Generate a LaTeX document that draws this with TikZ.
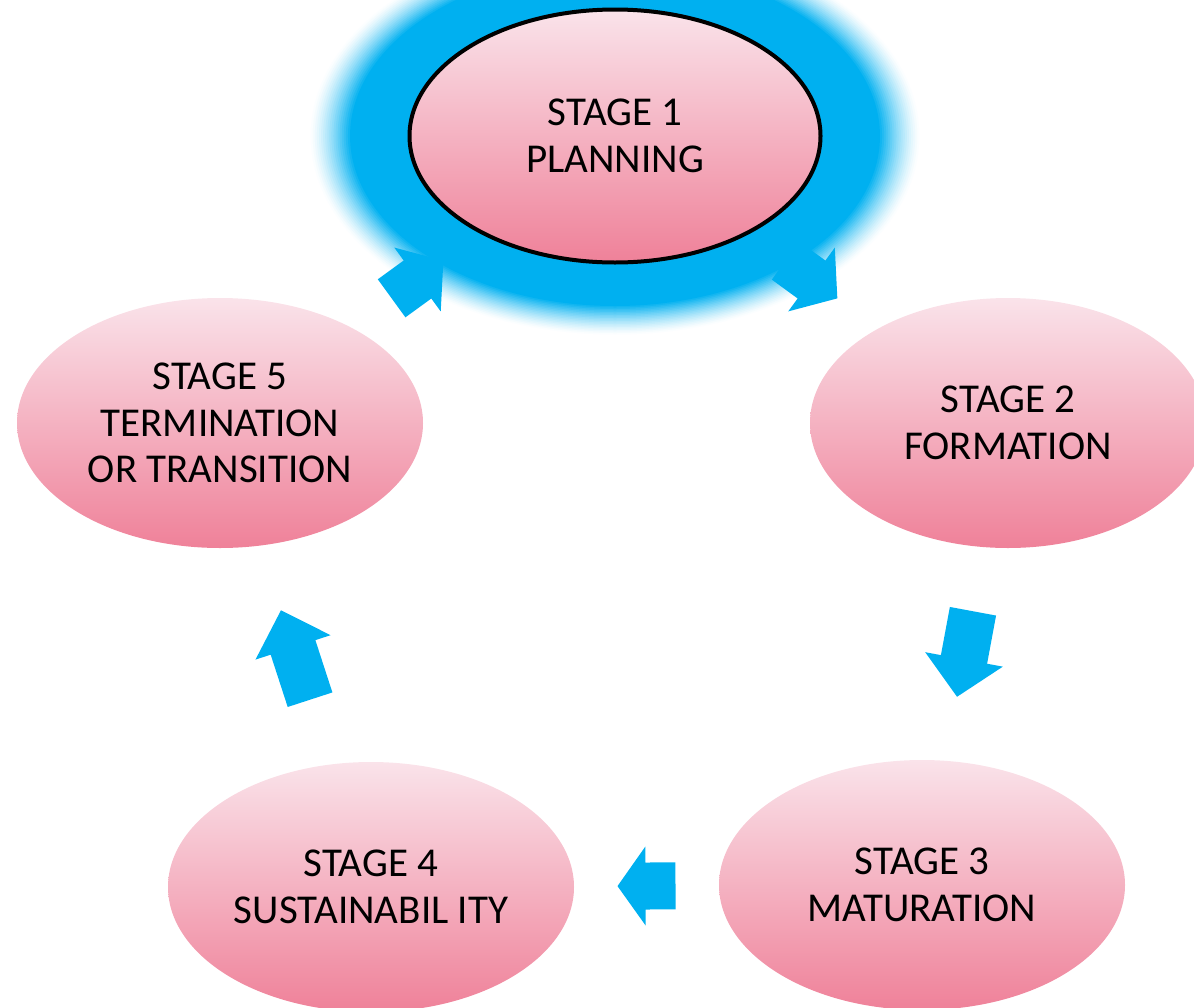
\documentclass[tikz,border=0pt]{standalone}
\usepackage{fontspec}
\setmainfont{Carlito}
\usetikzlibrary{shapes.geometric}
\usetikzlibrary{backgrounds}
\definecolor{glowblue}{HTML}{00B0F0}
\definecolor{stagetop}{HTML}{FAE3EA}
\definecolor{stagebottom}{HTML}{EF8199}
\tikzset{
  stage/.style={ellipse, inner sep=0pt, minimum width=406pt, minimum height=250pt,
    top color=stagetop, bottom color=stagebottom, align=center,
    font=\fontsize{41}{46.5}\selectfont},
  % #1 = length, #2 = head length
  pics/blockarrow/.style 2 args={code={
    \fill[glowblue] (-#1/2,-23.5) -- (#1/2-#2,-23.5) -- (#1/2-#2,-39.5) -- (#1/2,0)
      -- (#1/2-#2,39.5) -- (#1/2-#2,23.5) -- (-#1/2,23.5) -- cycle;}},
  onpath/.style={midway,sloped,allow upside down}
}

\begin{document}
\begin{tikzpicture}[x=1pt,y=-1pt]
  \path[use as bounding box] (0,0) rectangle (1194,1007);
  \node[stage,draw=black,line width=4pt,minimum width=411pt,minimum height=253pt] (s1) at (615,136) {STAGE 1\\PLANNING};
  \node[stage,minimum width=396pt] (s2) at (1008,423) {STAGE 2\\FORMATION};
  \node[stage] (s3) at (922,885) {STAGE 3\\MATURATION};
  \node[stage] (s4) at (371,887) {STAGE 4\\SUSTAINABIL ITY};
  \node[stage] (s5) at (220,423) {STAGE 5\\TERMINATION\\OR TRANSITION};
  % glow round stage 1
  \begin{scope}[on background layer]
    \foreach \k in {148,147,...,100} {
      \pgfmathsetmacro\t{\k<128 ? 100 : 100*((148-\k)/20)^1.4}
      \fill[glowblue!\t!white] (s1.center) ellipse [x radius={2.07*\k}, y radius={128+1.5*(\k-100)}];
    }
  \end{scope}
  \path (s5.center) -- pic[onpath] {blockarrow={64}{32}} (s1.center);
  \path (s1.center) -- pic[onpath] {blockarrow={64}{32}} (s2.center);
  \path (s2.center) -- pic[onpath] {blockarrow={87}{38}} (s3.center);
  \path (s3.center) -- pic[onpath] {blockarrow={58}{28}} (s4.center);
  \path (s4.center) -- pic[onpath] {blockarrow={94}{39}} (s5.center);
\end{tikzpicture}
\end{document}
